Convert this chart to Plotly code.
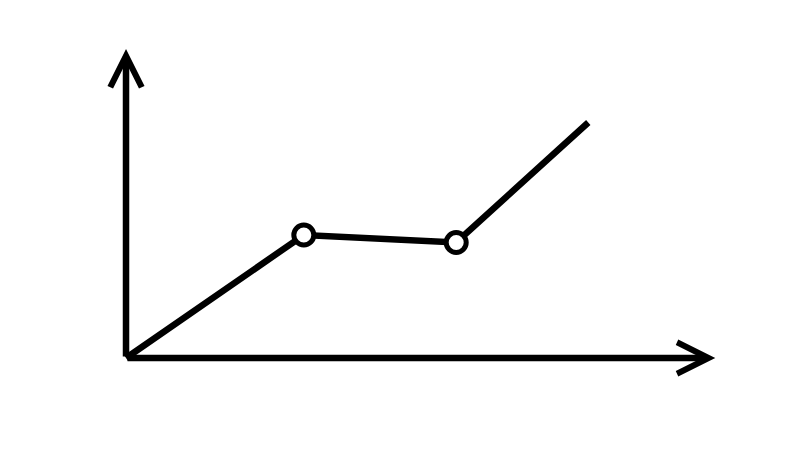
import plotly.graph_objects as go

# Data (arbitrary units)
x_vals = [0, 3.5, 6.5, 9.1]
y_vals = [0, 4.1, 3.85, 7.85]
marker_idx = [1, 2]
x_axis_end = 11.6
y_axis_end = 10.3

fig = go.Figure()

fig.add_trace(go.Scatter(
    x=x_vals, y=y_vals, mode="lines",
    line=dict(color="black", width=6.5),
    hoverinfo="skip", showlegend=False,
))
fig.add_trace(go.Scatter(
    x=[x_vals[i] for i in marker_idx], y=[y_vals[i] for i in marker_idx],
    mode="markers",
    marker=dict(symbol="circle", size=20, color="white",
                line=dict(color="black", width=5)),
    hoverinfo="skip", showlegend=False,
))

# axes with arrowheads
for (tx, ty) in [(x_axis_end, 0), (0, y_axis_end)]:
    fig.add_annotation(
        x=tx, y=ty, ax=0, ay=0, xref="x", yref="y", axref="x", ayref="y",
        text="", showarrow=True, arrowhead=5, arrowsize=0.95,
        arrowwidth=6.5, arrowcolor="black",
    )

fig.update_layout(
    width=800, height=450,
    margin=dict(l=0, r=0, t=0, b=0),
    paper_bgcolor="white", plot_bgcolor="white",
    xaxis=dict(range=[-2.323, 13.425], visible=False, fixedrange=True),
    yaxis=dict(range=[-3.333, 11.667], visible=False, fixedrange=True),
)

fig.write_html("out.html")
